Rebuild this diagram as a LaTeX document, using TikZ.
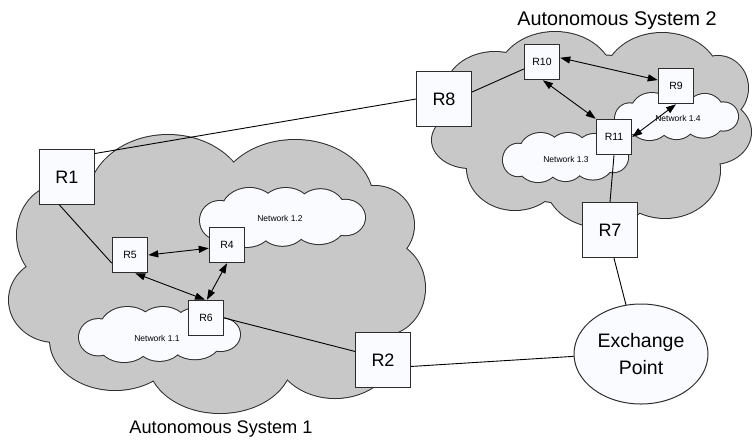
\documentclass[tikz,border=0pt]{standalone}
\usepackage{fontspec}
\setmainfont{Liberation Sans}
\usetikzlibrary{arrows.meta,shapes.geometric}
\definecolor{cloudgray}{RGB}{200,200,200}
\definecolor{paperwhite}{RGB}{250,251,255}
\definecolor{edgegray}{RGB}{45,45,45}
\tikzset{
  bigrouter/.style={draw=edgegray, line width=1pt, fill=paperwhite, minimum width=55pt, minimum height=55pt, inner sep=0pt, font=\fontsize{18}{20}\selectfont},
  smallrouter/.style={draw=edgegray, line width=1pt, fill=paperwhite, minimum width=35.5pt, minimum height=35.5pt, inner sep=0pt, font=\fontsize{10.5}{12}\selectfont},
  netlabel/.style={font=\fontsize{8.5}{10}\selectfont, inner sep=0pt},
  link/.style={line width=0.9pt, draw=black},
  dlink/.style={link, {Triangle[length=10pt,width=7pt]}-{Triangle[length=10pt,width=7pt]}},
  astitle/.style={anchor=base, inner sep=0pt},
  cloudedge/.style={line width=2pt, draw=edgegray},
}
% ellipse list cloud: cx/cy/rx/ry in pixel units (y downwards)
\newcommand{\lobecloud}[2]{%
  \foreach \cx/\cy/\rx/\ry in {#1} {\draw[cloudedge] (\cx,-\cy) ellipse [x radius=\rx pt, y radius=\ry pt];}
  \foreach \cx/\cy/\rx/\ry in {#1} {\fill[#2] (\cx,-\cy) ellipse [x radius=\rx pt, y radius=\ry pt];}
}
\newcommand{\netlobes}{0.12/0.55/0.12/0.33, 0.30/0.40/0.17/0.40, 0.52/0.38/0.16/0.38, 0.73/0.40/0.15/0.38, 0.88/0.50/0.12/0.30, 0.28/0.65/0.16/0.35, 0.50/0.62/0.15/0.36, 0.72/0.60/0.16/0.35, 0.50/0.50/0.35/0.30}
\newcommand{\netcloud}[4]{%
  \foreach \u/\v/\a/\b in \netlobes {\draw[cloudedge] ({#1+\u*#3},{-(#2+\v*#4)}) ellipse [x radius={\a*#3 pt}, y radius={\b*#4 pt}];}
  \foreach \u/\v/\a/\b in \netlobes {\fill[paperwhite] ({#1+\u*#3},{-(#2+\v*#4)}) ellipse [x radius={\a*#3 pt}, y radius={\b*#4 pt}];}
}
\begin{document}
\begin{tikzpicture}[x=1pt,y=1pt]
\useasboundingbox (0,0) rectangle (752,-440);

% Autonomous System 1 cloud
\lobecloud{168/200/80/65, 295/200/78/60, 375/225/39/39, 383/288/42/47, 335/350/60/48, 220/360/72/53, 115/340/65/50, 55/300/46/42, 60/235/43/50, 220/280/175/100}{cloudgray}
% Autonomous System 2 cloud
\lobecloud{495/92/50/40, 555/78/58/46, 662/80/58/47, 718/88/30/32, 713/132/38/32, 665/170/55/48, 600/180/55/47, 515/168/48/42, 470/140/38/28, 590/130/140/75}{cloudgray}

% network clouds
\netcloud{200}{188}{165}{59}
\netcloud{79}{307}{161}{55}
\netcloud{503}{133}{125}{49}
\netcloud{615}{93}{123}{47}

\node[netlabel] (n12) at (280,-218) {Network 1.2};
\node[netlabel] (n11) at (157,-338) {Network 1.1};
\node[netlabel] (n13) at (566,-159) {Network 1.3};
\node[netlabel] (n14) at (678,-118) {Network 1.4};

% routers
\node[bigrouter] (R1) at (67,-177) {R1};
\node[smallrouter] (R5) at (130,-255) {R5};
\node[smallrouter] (R4) at (227,-245) {R4};
\node[smallrouter] (R6) at (206,-318) {R6};
\node[bigrouter] (R2) at (383,-360) {R2};
\node[bigrouter] (R8) at (444,-99) {R8};
\node[smallrouter] (R10) at (542,-62) {R10};
\node[smallrouter] (R9) at (676,-86) {R9};
\node[smallrouter] (R11) at (614,-137) {R11};
\node[bigrouter] (R7) at (610,-230) {R7};
\node[ellipse, draw=edgegray, line width=1pt, fill=paperwhite, minimum width=134pt, minimum height=100pt, inner sep=0pt, align=center, font=\fontsize{19.5}{27.5}\selectfont] (EP) at (641,-354) {Exchange\\Point};

% connectors
\draw[link] (R1.40) -- (R8.west);
\draw[link] (R1.255) -- (R5.204);
\draw[dlink] (R5.east) -- (R4.190);
\draw[dlink] (R5.-74) -- (R6.93);
\draw[dlink] (R4.south) -- (R6.87);
\draw[link] (R6.east) -- (R2.163);
\draw[link] (R2.-13) -- (EP.182);
\draw[link] (R7.-82) -- (EP.107);
\draw[link] (R11.south) -- (R7.north);
\draw[link] (R8.14) -- (R10.201);
\draw[dlink] (R10.13) -- (R9.162);
\draw[dlink] (R10.-87) -- (R11.north west);
\draw[dlink] (R11.east) -- (R9.south);

% titles
\node[astitle, font=\fontsize{18.2}{20}\selectfont] (t1) at (221,-433) {Autonomous System 1};
\node[astitle, font=\fontsize{19.8}{22}\selectfont] (t2) at (617,-25) {Autonomous System 2};
\end{tikzpicture}
\end{document}
